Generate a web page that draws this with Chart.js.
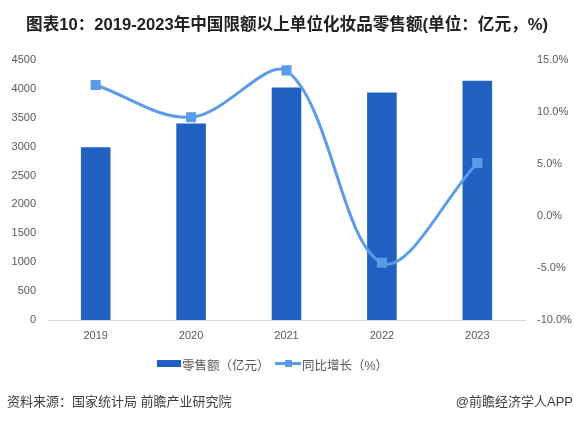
<!DOCTYPE html>
<html>
<head>
<meta charset="utf-8">
<script src="https://cdn.jsdelivr.net/npm/chart.js@4.4.0/dist/chart.umd.min.js"></script>
<style>
    html, body { margin: 0; padding: 0; background: #fff; }
    #wrap { position: relative; width: 574px; height: 421px; overflow: hidden;
        font-family: "Liberation Sans", "Noto Sans CJK SC", sans-serif; }
    #myChart { position: absolute; left: 0; top: 0; }
    .title { position: absolute; left: 0; top: 11px; width: 574px; text-align: center;
        font-size: 16.6px; font-weight: bold; color: #222; white-space: nowrap; }
    .legend { position: absolute; top: 355px; left: 0; width: 574px; font-size: 12.5px; color: #595959; }
    .legend span { position: absolute; white-space: nowrap; }
    .swatch-bar { position: absolute; left: 157px; top: 360px; width: 24px; height: 7px; background: #1F60C0; }
    .swatch-line { position: absolute; left: 275px; top: 362px; width: 26px; height: 3px; background: #5B9BE8; }
    .swatch-dot { position: absolute; left: 285px; top: 360px; width: 7px; height: 7px; background: #5B9BE8; }
    .source { position: absolute; left: 7px; top: 391px; font-size: 13px; color: #404040; white-space: nowrap; }
    .brand { position: absolute; right: 1px; top: 391px; font-size: 13px; color: #404040; white-space: nowrap; }
</style>
</head>
<body>
<div id="wrap">
    <canvas id="myChart" width="574" height="421"></canvas>
    <div class="title">图表10：2019-2023年中国限额以上单位化妆品零售额(单位：亿元，%)</div>
    <div class="swatch-bar"></div>
    <div class="swatch-line"></div>
    <div class="swatch-dot"></div>
    <div class="legend">
        <span style="left:182px">零售额（亿元）</span>
        <span style="left:302px">同比增长（%）</span>
    </div>
    <div class="source">资料来源：国家统计局 前瞻产业研究院</div>
    <div class="brand">@前瞻经济学人APP</div>
</div>
<script>
const years = ['2019', '2020', '2021', '2022', '2023'];
const sales = [2992, 3400, 4026, 3936, 4142];
const growth = [12.6, 9.5, 14.0, -4.5, 5.1];

const tickFont = { family: '"Liberation Sans", "Noto Sans CJK SC", sans-serif', size: 11 };

const ctx = document.getElementById('myChart');

new Chart(ctx, {
    data: {
        labels: years,
        datasets: [
            {
                type: 'line',
                label: '同比增长（%）',
                data: growth,
                yAxisID: 'y1',
                borderColor: '#5B9BE8',
                backgroundColor: '#5B9BE8',
                borderWidth: 3,
                pointStyle: 'rect',
                pointRadius: 5,
                pointHoverRadius: 5,
                tension: 0.35,
                order: 0
            },
            {
                type: 'bar',
                label: '零售额（亿元）',
                data: sales,
                yAxisID: 'y',
                backgroundColor: '#1F60C0',
                barPercentage: 0.62,
                categoryPercentage: 0.5,
                order: 1
            }
        ]
    },
    options: {
        responsive: false,
        animation: false,
        layout: { padding: { top: 60, left: 0, right: 0, bottom: 0 } },
        plugins: {
            legend: { display: false },
            title: { display: false },
            tooltip: { enabled: false }
        },
        scales: {
            x: {
                offset: true,
                grid: { display: false, drawTicks: false },
                border: { display: true, color: '#d9d9d9', width: 1 },
                ticks: { color: '#595959', font: tickFont, padding: 9 },
                afterFit: function (scale) { scale.height = 101; }
            },
            y: {
                position: 'left',
                min: 0,
                max: 4500,
                grid: { display: false, drawTicks: false },
                border: { display: false },
                ticks: {
                    stepSize: 500,
                    color: '#595959',
                    font: tickFont,
                    padding: 12,
                    callback: function (v) { return String(v); }
                },
                afterFit: function (scale) { scale.width = 48; }
            },
            y1: {
                position: 'right',
                min: -10,
                max: 15,
                grid: { display: false, drawTicks: false },
                border: { display: false },
                ticks: {
                    stepSize: 5,
                    color: '#595959',
                    font: tickFont,
                    padding: 12,
                    callback: function (v) { return v.toFixed(1) + '%'; }
                },
                afterFit: function (scale) { scale.width = 49; }
            }
        }
    }
});
</script>
</body>
</html>
